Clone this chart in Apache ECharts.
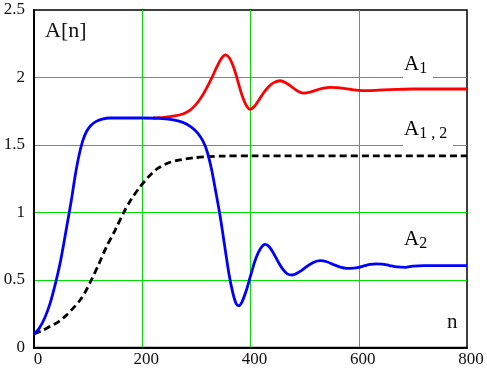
<!DOCTYPE html>
<html>
<head>
<meta charset="utf-8">
<script src="https://cdn.jsdelivr.net/npm/echarts@6/dist/echarts.min.js"></script>
<style>
  html, body { margin: 0; padding: 0; background: #fff; }
  #chart { width: 487px; height: 370px; }
</style>
</head>
<body>
<div id="chart"></div>
<script>
// A2 (blue)
const nBlue = [0, 10, 20, 30, 40, 48, 55, 62, 69, 76, 83, 90, 97, 105, 115, 126, 140, 170, 200, 230, 255, 275, 290, 302, 312, 320, 328, 336, 344, 352, 360, 367, 373, 378, 384, 392, 400, 409, 418, 427, 435, 443, 451, 460, 468, 477, 490, 504, 517, 529, 541, 553, 566, 578, 590, 600, 611, 621, 632, 643, 657, 671, 686, 700, 720, 800];
const vBlue = [0.10, 0.145, 0.22, 0.33, 0.48, 0.62, 0.77, 0.93, 1.09, 1.27, 1.42, 1.53, 1.60, 1.645, 1.675, 1.692, 1.70, 1.70, 1.70, 1.698, 1.688, 1.668, 1.635, 1.59, 1.53, 1.45, 1.32, 1.15, 0.97, 0.76, 0.55, 0.41, 0.33, 0.31, 0.335, 0.42, 0.53, 0.65, 0.73, 0.764, 0.745, 0.695, 0.635, 0.578, 0.545, 0.537, 0.56, 0.60, 0.632, 0.643, 0.635, 0.615, 0.595, 0.586, 0.588, 0.594, 0.606, 0.616, 0.62, 0.618, 0.607, 0.597, 0.594, 0.603, 0.606, 0.606];

// A1 (red)
const nRed = [220, 240, 260, 275, 287, 297, 306, 314, 322, 330, 338, 346, 354, 361, 368, 374, 380, 386, 392, 399, 407, 415, 424, 433, 443, 455, 465, 475, 487, 498, 510, 522, 535, 547, 560, 572, 584, 600, 620, 645, 670, 700, 800];
const vRed = [1.70, 1.705, 1.715, 1.73, 1.755, 1.79, 1.835, 1.885, 1.945, 2.01, 2.08, 2.14, 2.167, 2.145, 2.085, 2.01, 1.925, 1.85, 1.795, 1.764, 1.785, 1.83, 1.885, 1.93, 1.962, 1.976, 1.962, 1.935, 1.90, 1.885, 1.892, 1.907, 1.922, 1.927, 1.925, 1.92, 1.913, 1.905, 1.903, 1.908, 1.912, 1.915, 1.915];

// A1,2 (black dashed)
const nMix = [0, 15, 29, 45, 60, 72, 85, 96, 106, 120, 134, 150, 165, 180, 196, 213, 230, 250, 270, 295, 319, 350, 400, 800];
const vMix = [0.10, 0.125, 0.155, 0.19, 0.24, 0.29, 0.35, 0.42, 0.50, 0.62, 0.747, 0.87, 0.994, 1.10, 1.19, 1.27, 1.33, 1.37, 1.39, 1.405, 1.413, 1.418, 1.42, 1.42];

const pairs = (xs, ys) => xs.map((x, i) => [x, ys[i]]);

const chart = echarts.init(document.getElementById('chart'));
const serif = '"Liberation Serif", "DejaVu Serif", serif';
const green = '#00e000';
const ink = '#111';

// label with subscript, Mathcad style
const subLabel = (left, top, sub) => ({
  type: 'text', left, top, z: 100,
  style: {
    text: '{a|A}{s|' + sub + '}', padding: [0, 2, 0, 3],
    rich: {
      a: { fontFamily: serif, fontSize: 21, color: ink },
      s: { fontFamily: serif, fontSize: 16, color: ink, padding: [9, 0, 0, 0] }
    }
  }
});

const option = {
  animation: false,
  backgroundColor: '#fff',
  grid: {
    left: 34, top: 10, width: 433, height: 337.5,
    show: true, borderColor: '#000', borderWidth: 1.5, backgroundColor: 'transparent'
  },
  xAxis: {
    type: 'value', min: 0, max: 800, interval: 200,
    axisLine: { lineStyle: { color: '#000', width: 2 } },
    axisTick: { show: false },
    axisLabel: { color: ink, fontFamily: serif, fontSize: 17, margin: 4, padding: [0, 0, 0, 8] },
    splitLine: { show: true, showMinLine: false, showMaxLine: false, lineStyle: { color: green, width: 1 } }
  },
  yAxis: {
    type: 'value', min: 0, max: 2.5, interval: 0.5,
    axisLine: { show: true, lineStyle: { color: '#000', width: 2 } },
    axisTick: { show: false },
    axisLabel: { color: ink, fontFamily: serif, fontSize: 17, margin: 9 },
    splitLine: { show: true, showMinLine: false, showMaxLine: false, lineStyle: { color: green, width: 1 } }
  },
  graphic: [
    // gaps in the grid lines under the labels
    { type: 'rect', left: 403, top: 75, z: 99, shape: { width: 30, height: 4 }, style: { fill: '#fff' } },
    { type: 'rect', left: 403, top: 143, z: 99, shape: { width: 50, height: 4 }, style: { fill: '#fff' } },
    { type: 'text', left: 45, top: 20, z: 100,
      style: { text: 'A[n]', font: '22px ' + serif, fill: ink } },
    subLabel(404, 54, '1'),
    subLabel(404, 119, '1 , 2'),
    subLabel(404, 229, '2'),
    { type: 'text', left: 447, top: 312, z: 100,
      style: { text: 'n', font: '21px ' + serif, fill: ink } }
  ],
  series: [
    {
      type: 'line', data: pairs(nMix, vMix), smooth: 0.3, symbol: 'none',
      lineStyle: { color: '#000', width: 2.8, type: [7, 4] }, z: 3
    },
    {
      type: 'line', data: pairs(nRed, vRed), smooth: 0.3, symbol: 'none',
      lineStyle: { color: '#ff0000', width: 2.8 }, z: 3
    },
    {
      type: 'line', data: pairs(nBlue, vBlue), smooth: 0.3, symbol: 'none',
      lineStyle: { color: '#0000ff', width: 2.8 }, z: 4
    }
  ]
};

chart.setOption(option);
</script>
</body>
</html>
